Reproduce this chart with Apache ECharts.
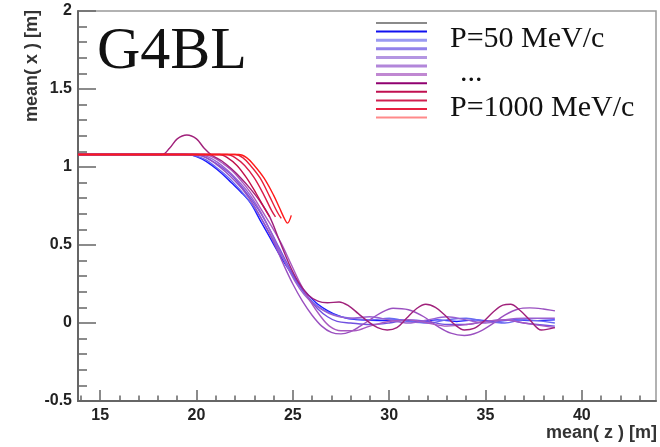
<!DOCTYPE html>
<html>
<head>
<meta charset="utf-8">
<script src="https://cdn.jsdelivr.net/npm/echarts@6/dist/echarts.min.js"></script>
<style>
html, body { margin: 0; padding: 0; background: #fff; }
#main { width: 660px; height: 447px; }
</style>
</head>
<body>
<div id="main"></div>
<script>
// tick values
const xMajorTicks = [15, 20, 25, 30, 35, 40];
const xMinorTicks = [14, 16, 17, 18, 19, 21, 22, 23, 24, 26, 27, 28, 29, 31, 32, 33, 34, 36, 37, 38, 39, 41, 42, 43];

// beam momentum of each track (MeV/c), low -> high
const momenta = [50, 100, 200, 300, 400, 500, 600, 700, 800, 900, 1000];

// mean(z), mean(x) per track
const p50 = [[13.85,1.08],[19.3,1.08],[19.8,1.075],[20.3,1.05],[20.8,1.01],[21.3,0.96],[21.8,0.9],[22.3,0.84],[22.8,0.77],[23.3,0.66],[23.8,0.55],[24.3,0.44],[24.8,0.34],[25.3,0.25],[25.8,0.18],[26.3,0.12],[26.8,0.08],[27.3,0.05],[27.8,0.03],[28.5,0.02],[29.5,0.015],[30.5,0.02],[31.5,0.01],[32.5,0.02],[33.5,0.01],[34.5,0.02],[35.5,0.01],[36.5,0.02],[37.5,0.015],[38.6,0.02]];
const p100 = [[13.85,1.08],[19.5,1.08],[20.0,1.07],[20.5,1.045],[21.0,1.0],[21.5,0.95],[22.0,0.89],[22.5,0.82],[23.0,0.74],[23.5,0.64],[24.0,0.53],[24.5,0.41],[25.0,0.3],[25.5,0.21],[26.0,0.14],[26.5,0.09],[27.0,0.06],[27.5,0.04],[28.0,0.03],[29.0,0.02],[30.0,0.03],[31.0,0.01],[32.0,0.0],[33.0,0.02],[34.0,0.03],[35.0,0.01],[36.0,0.0],[37.0,0.02],[38.6,0.0]];
const p200 = [[13.85,1.08],[19.8,1.08],[20.3,1.07],[20.8,1.04],[21.3,1.0],[21.8,0.95],[22.3,0.88],[22.8,0.8],[23.3,0.71],[23.8,0.6],[24.3,0.48],[24.8,0.36],[25.3,0.25],[25.8,0.16],[26.3,0.09],[26.8,0.04],[27.3,0.01],[28.0,0.0],[29.0,-0.01],[30.0,0.0],[31.0,0.02],[32.0,0.01],[33.0,-0.01],[34.0,-0.01],[35.0,0.01],[36.0,0.02],[37.0,0.0],[38.6,-0.02]];
const p300 = [[13.85,1.08],[20.0,1.08],[20.5,1.06],[21.0,1.02],[21.5,0.97],[22.0,0.91],[22.5,0.84],[23.0,0.75],[23.5,0.64],[24.0,0.52],[24.5,0.38],[25.0,0.25],[25.5,0.14],[26.0,0.05],[26.5,-0.02],[27.0,-0.06],[27.5,-0.07],[28.0,-0.055],[28.5,-0.02],[29.0,0.02],[29.5,0.06],[30.2,0.095],[31.0,0.085],[31.8,0.04],[32.5,-0.02],[33.2,-0.065],[33.9,-0.08],[34.6,-0.06],[35.3,-0.01],[36.0,0.05],[36.7,0.09],[37.3,0.097],[38.0,0.09],[38.6,0.078]];
const p400 = [[13.85,1.08],[20.1,1.08],[20.6,1.065],[21.1,1.03],[21.6,0.98],[22.1,0.92],[22.6,0.85],[23.1,0.76],[23.6,0.65],[24.1,0.52],[24.6,0.39],[25.1,0.27],[25.6,0.18],[26.1,0.12],[26.6,0.08],[27.1,0.05],[28.0,0.03],[29.0,0.04],[30.0,0.02],[31.0,0.0],[32.0,0.02],[33.0,0.04],[34.0,0.02],[35.0,0.0],[36.0,0.02],[37.0,0.03],[38.6,0.03]];
const p500 = [[13.85,1.08],[20.4,1.08],[20.9,1.06],[21.4,1.02],[21.9,0.97],[22.4,0.9],[22.9,0.82],[23.4,0.72],[23.9,0.62],[24.4,0.51],[24.9,0.38],[25.4,0.25],[25.9,0.14],[26.4,0.05],[26.9,-0.02],[27.5,-0.05],[28.2,-0.05],[29.0,-0.02],[30.0,0.01],[31.0,0.02],[32.0,0.0],[33.0,-0.02],[34.0,-0.01],[35.0,0.01],[36.0,0.02],[37.0,0.0],[38.6,-0.03]];
const p600 = [[13.85,1.08],[18.2,1.08],[18.6,1.12],[19.0,1.18],[19.5,1.205],[20.0,1.18],[20.4,1.12],[20.8,1.075],[21.3,1.04],[21.8,0.99],[22.3,0.93],[22.8,0.86],[23.3,0.78],[23.8,0.68],[24.3,0.53],[24.8,0.38],[25.3,0.26],[25.8,0.18],[26.3,0.14],[26.8,0.13],[27.4,0.135],[27.9,0.11],[28.4,0.06],[28.9,0.01],[29.4,-0.03],[29.9,-0.045],[30.4,-0.03],[30.9,0.03],[31.4,0.09],[31.9,0.12],[32.4,0.1],[32.9,0.05],[33.4,-0.01],[33.9,-0.045],[34.4,-0.035],[34.9,0.01],[35.4,0.07],[35.9,0.115],[36.3,0.12],[36.8,0.08],[37.3,0.02],[37.9,-0.045],[38.6,-0.03]];
const p700 = [[13.85,1.08],[21.2,1.08],[21.6,1.06],[22.1,1.01],[22.6,0.93],[23.1,0.83],[23.6,0.72],[23.8,0.68]];
const p800 = [[13.85,1.08],[21.6,1.08],[22.0,1.06],[22.5,1.01],[23.0,0.93],[23.5,0.82],[23.9,0.72],[24.1,0.68]];
const p900 = [[13.85,1.08],[22.0,1.08],[22.4,1.06],[22.8,1.01],[23.3,0.93],[23.8,0.81],[24.2,0.71],[24.4,0.67]];
const p1000 = [[13.85,1.08],[22.2,1.08],[22.6,1.06],[23.0,1.01],[23.5,0.93],[24.0,0.82],[24.3,0.74],[24.6,0.66],[24.72,0.64],[24.92,0.69]];

const tracks = [p50, p100, p200, p300, p400, p500, p600, p700, p800, p900, p1000];
const lineColors = ['#1a1aff', '#6a6af0', '#7050e0', '#9a50c0', '#9a60d0', '#a858c0', '#a0207a', '#c0104a', '#d81c48', '#e8203a', '#ff1a1a'];
const legendColors = ['#8a8a8a', '#1010f0', '#9a9af2', '#9282ea', '#b496e2', '#b286da', '#c088d2', '#900070', '#c01050', '#d02050', '#e82040', '#ff8a8a'];

let myChart = echarts.init(document.getElementById('main'), null, { renderer: 'canvas' });

let series = tracks.map(function (d, i) {
    return {
        name: 'P=' + momenta[i] + ' MeV/c',
        type: 'line',
        data: d,
        showSymbol: false,
        smooth: 0.35,
        lineStyle: { color: lineColors[i], width: 1.4 },
        z: 2 + i
    };
});

// legend swatches, drawn like the ROOT TLegend
let graphics = [];
legendColors.forEach(function (c, i) {
    let y = 23 + i * 8.6;
    graphics.push({
        type: 'line',
        shape: { x1: 376, y1: y, x2: 427, y2: y },
        style: { stroke: c, lineWidth: (i >= 2 && i <= 6) ? 3 : 2 }
    });
});
graphics.push(
    { type: 'text', x: 450, y: 39, style: { text: 'P=50 MeV/c', font: '30px "Liberation Serif"', fill: '#111', align: 'left', verticalAlign: 'middle' } },
    { type: 'text', x: 460, y: 73, style: { text: '...', font: '30px "Liberation Serif"', fill: '#111', align: 'left', verticalAlign: 'middle' } },
    { type: 'text', x: 450, y: 108, style: { text: 'P=1000 MeV/c', font: '30px "Liberation Serif"', fill: '#111', align: 'left', verticalAlign: 'middle' } },
    { type: 'text', x: 97, y: 52, style: { text: 'G4BL', font: '60px "Liberation Serif"', fill: '#111', align: 'left', verticalAlign: 'middle' } },
    { type: 'text', x: 657, y: 433, style: { text: 'mean( z ) [m]', font: 'bold 18px "Liberation Sans"', fill: '#333', align: 'right', verticalAlign: 'middle' } },
    { type: 'text', x: 32, y: 10, rotation: Math.PI / 2, style: { text: 'mean( x ) [m]', font: 'bold 18px "Liberation Sans"', fill: '#333', align: 'right', verticalAlign: 'middle' } }
);

let option = {
    animation: false,
    backgroundColor: '#fff',
    grid: { left: 78, top: 11, right: 4, bottom: 46, show: true, borderColor: '#999', borderWidth: 1.5 },
    xAxis: [
        {
            type: 'value',
            position: 'bottom',
            min: 13.85,
            max: 43.85,
            splitNumber: 6,
            axisLine: { show: true, onZero: false, lineStyle: { color: '#666', width: 2 } },
            axisTick: { show: true, inside: true, length: 11, customValues: xMajorTicks, lineStyle: { color: '#666', width: 1.5 } },
            axisLabel: { customValues: xMajorTicks, color: '#222', fontSize: 16, fontWeight: 'bold', fontFamily: 'Liberation Sans', margin: 7 },
            splitLine: { show: false }
        },
        {
            type: 'value',
            position: 'bottom',
            min: 13.85,
            max: 43.85,
            axisLine: { show: false, onZero: false },
            axisTick: { show: true, inside: true, length: 5.5, customValues: xMinorTicks, lineStyle: { color: '#666', width: 1.5 } },
            axisLabel: { show: false },
            splitLine: { show: false }
        }
    ],
    yAxis: {
        type: 'value',
        min: -0.5,
        max: 2,
        interval: 0.5,
        axisLine: { show: true, onZero: false, lineStyle: { color: '#666', width: 2 } },
        axisTick: { show: true, inside: true, length: 18, lineStyle: { color: '#666', width: 1.5 } },
        minorTick: { show: true, splitNumber: 5, length: 9, lineStyle: { color: '#666', width: 1.5 } },
        axisLabel: { color: '#222', fontSize: 16, fontWeight: 'bold', fontFamily: 'Liberation Sans', margin: 6 },
        splitLine: { show: false }
    },
    series: series,
    graphic: graphics
};

myChart.setOption(option);
window.addEventListener('resize', function () { myChart.resize(); });
</script>
</body>
</html>
